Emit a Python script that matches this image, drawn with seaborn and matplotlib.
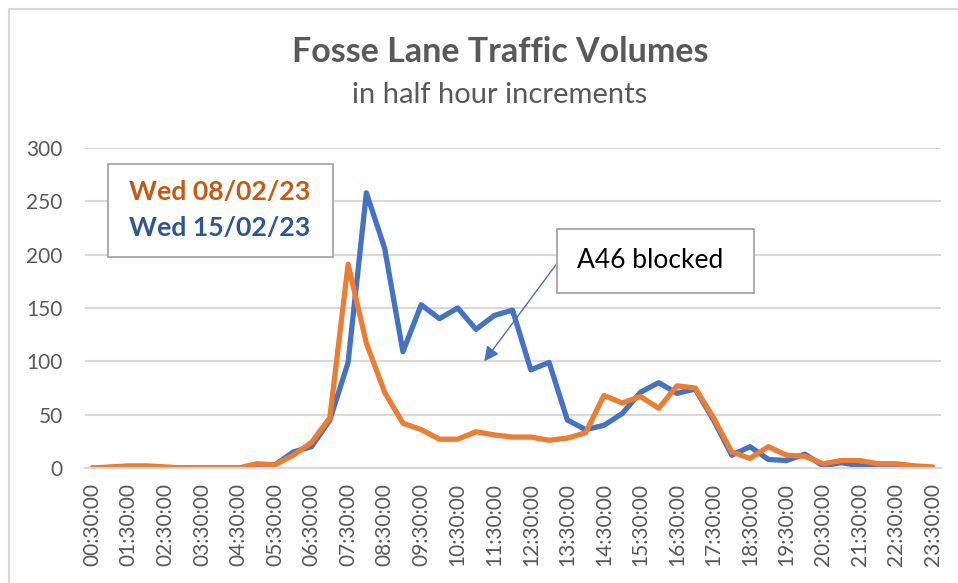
import matplotlib
matplotlib.use("Agg")
import matplotlib.pyplot as plt
from matplotlib.patches import Rectangle
import seaborn as sns
import pandas as pd

# ---------------- data ----------------
times = ["00:30:00", "01:00:00", "01:30:00", "02:00:00", "02:30:00", "03:00:00",
         "03:30:00", "04:00:00", "04:30:00", "05:00:00", "05:30:00", "06:00:00",
         "06:30:00", "07:00:00", "07:30:00", "08:00:00", "08:30:00", "09:00:00",
         "09:30:00", "10:00:00", "10:30:00", "11:00:00", "11:30:00", "12:00:00",
         "12:30:00", "13:00:00", "13:30:00", "14:00:00", "14:30:00", "15:00:00",
         "15:30:00", "16:00:00", "16:30:00", "17:00:00", "17:30:00", "18:00:00",
         "18:30:00", "19:00:00", "19:30:00", "20:00:00", "20:30:00", "21:00:00",
         "21:30:00", "22:00:00", "22:30:00", "23:00:00", "23:30:00"]

wed_08_02 = [0, 1, 2, 2, 1, 0, 0, 0, 0, 4, 3, 12, 24, 47, 191, 117, 71, 42, 36, 27,
             27, 34, 31, 29, 29, 26, 28, 33, 68, 61, 67, 56, 77, 75, 47, 15, 9, 20,
             12, 11, 4, 7, 7, 4, 4, 2, 1]

wed_15_02 = [0, 0, 0, 0, 0, 0, 0, 0, 0, 1, 3, 15, 20, 45, 99, 258, 206, 109, 153, 140,
             150, 130, 143, 148, 92, 99, 45, 36, 40, 51, 71, 80, 70, 74, 45, 12, 20, 8,
             7, 13, 2, 5, 2, 2, 1, 1, 0]

series_names = ["Wed 08/02/23", "Wed 15/02/23"]
series_colors = ["#ED7D31", "#4472C4"]
legend_text_colors = ["#C55A11", "#2F5597"]

title = "Fosse Lane Traffic Volumes"
subtitle = "in half hour increments"
annotation = "A46 blocked"
y_ticks = [0, 50, 100, 150, 200, 250, 300]

# ---------------- frame ----------------
slots = list(range(len(times)))
df = pd.concat([
    pd.DataFrame({"slot": slots, "time": times, "volume": wed_15_02, "day": series_names[1]}),
    pd.DataFrame({"slot": slots, "time": times, "volume": wed_08_02, "day": series_names[0]}),
])

sns.set_theme(style="white")
FONT = ["Lato", "DejaVu Sans"]
plt.rcParams["font.family"] = FONT

W, H = 958, 583
fig = plt.figure(figsize=(W / 100, H / 100), dpi=100)
fig.patch.set_facecolor("white")

def fx(px):
    return px / W

def fy(py):
    return 1 - py / H

ax_left, ax_right, ax_top, ax_bottom = 85, 941, 148, 468
ax = fig.add_axes([fx(ax_left), fy(ax_bottom), fx(ax_right - ax_left), (ax_bottom - ax_top) / H])

sns.lineplot(data=df, x="slot", y="volume", hue="day",
             hue_order=[series_names[1], series_names[0]],
             palette={series_names[0]: series_colors[0], series_names[1]: series_colors[1]},
             linewidth=3.8, legend=False, ax=ax, sort=False)
for ln in ax.get_lines():
    ln.set_solid_joinstyle("round")
    ln.set_solid_capstyle("round")

ax.set_xlim(-0.4, len(times) - 1 + 0.45)
ax.set_ylim(0, 300)
ax.set_yticks(y_ticks)
ax.set_xticks(slots[::2])
ax.set_xticklabels(times[::2], rotation=90)
ax.set_xlabel("")
ax.set_ylabel("")
ax.grid(axis="y", color="#d9d9d9", linewidth=1.5)
ax.set_axisbelow(True)
for s in ["top", "right", "left"]:
    ax.spines[s].set_visible(False)
ax.spines["bottom"].set_color("#d9d9d9")
ax.spines["bottom"].set_linewidth(1.5)
ax.tick_params(axis="both", length=0, colors="#595959", labelsize=15)
ax.tick_params(axis="x", pad=11)
ax.tick_params(axis="y", pad=16)

# outer chart border
fig.patches.append(Rectangle((fx(9), fy(H + 20)), 1.2, fy(9) - fy(H + 20),
                             transform=fig.transFigure, fill=False,
                             edgecolor="#d9d9d9", linewidth=1.5))

# titles
fig.text(fx(500), fy(52), title, ha="center", va="center", fontsize=24.5,
         fontweight="bold", color="#595959")
fig.text(fx(500), fy(95), subtitle, ha="center", va="center", fontsize=21,
         color="#595959")

# legend box
fig.patches.append(Rectangle((fx(108), fy(257)), fx(333 - 108), (257 - 164) / H,
                             transform=fig.transFigure, facecolor="white",
                             edgecolor="#a6a6a6", linewidth=1.3, zorder=5))
fig.text(fx(129), fy(192), series_names[0], ha="left", va="center", fontsize=19.2,
         fontweight="bold", color=legend_text_colors[0], zorder=6)
fig.text(fx(129), fy(228), series_names[1], ha="left", va="center", fontsize=19.2,
         fontweight="bold", color=legend_text_colors[1], zorder=6)

# annotation box + arrow
fig.patches.append(Rectangle((fx(557), fy(293)), fx(754 - 557), (293 - 229) / H,
                             transform=fig.transFigure, facecolor="white",
                             edgecolor="#a6a6a6", linewidth=1.3, zorder=5))
fig.text(fx(577), fy(260), annotation, ha="left", va="center", fontsize=19,
         color="black", zorder=6)
ax.annotate("", xy=(21.45, 100), xytext=(25.44, 192),
            arrowprops=dict(arrowstyle="-|>", color="#4472C4", lw=1.0,
                            mutation_scale=22, shrinkA=0, shrinkB=0))

fig.savefig("out.png", dpi=100, facecolor="white")
